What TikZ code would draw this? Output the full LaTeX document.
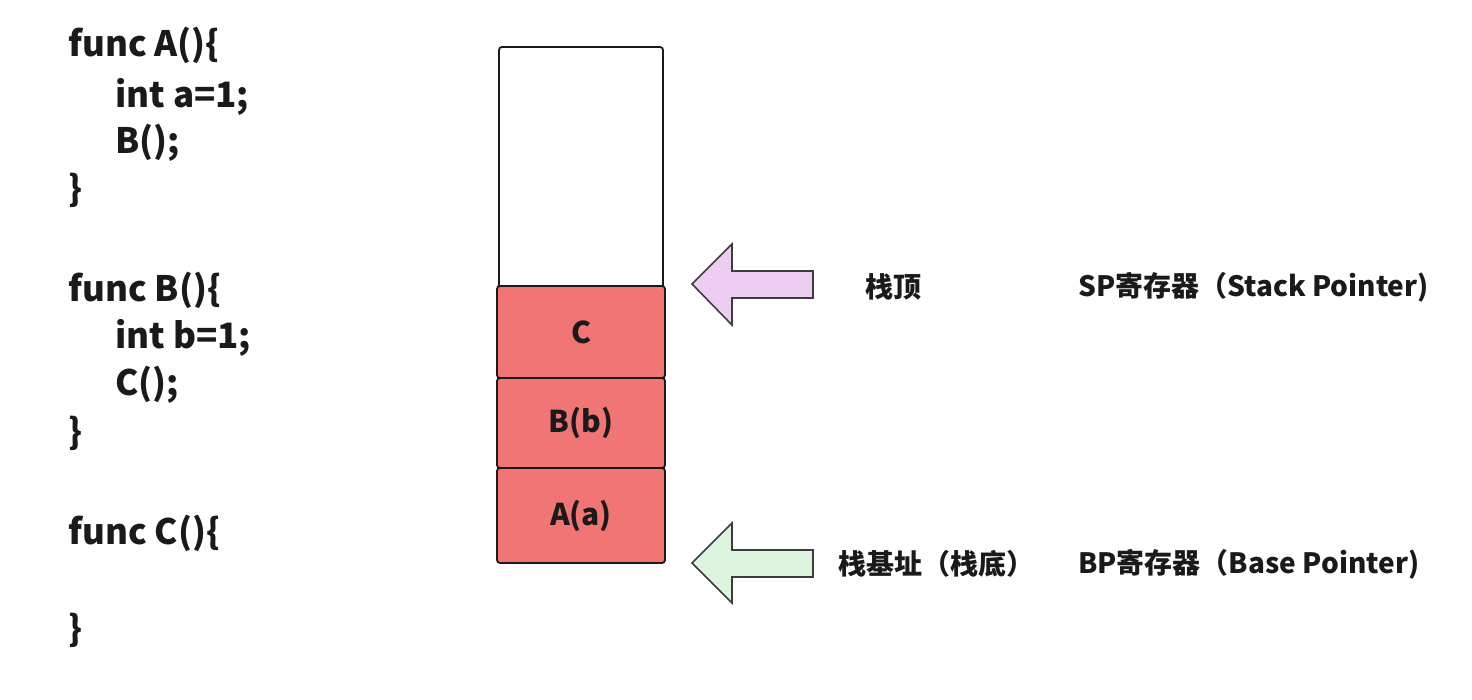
\documentclass[tikz,border=0pt]{standalone}
\usepackage{fontspec}
\setmainfont{Noto Sans CJK SC}
\definecolor{framered}{HTML}{F27575}
\definecolor{pinkarrow}{HTML}{EECDF2}
\definecolor{greenarrow}{HTML}{DDF5DE}
\definecolor{ink}{HTML}{1A1A1A}
\tikzset{
  code/.style={anchor=west, inner sep=0pt, font=\fontsize{35}{40}\selectfont\bfseries, text=ink},
  frame/.style={draw=ink, line width=1.8pt, rounded corners=3pt, fill=framered},
  emptyframe/.style={draw=ink, line width=1.8pt, rounded corners=3pt, fill=white},
  framelabel/.style={font=\fontsize{30}{34}\selectfont\bfseries, text=ink},
  sidelabel/.style={anchor=west, inner sep=0pt, font=\fontsize{28}{32}\selectfont\bfseries, text=ink},
  blockarrow/.style={draw=ink!85, line width=1.6pt, line join=miter}
}
\begin{document}
\begin{tikzpicture}[x=1pt,y=-1pt]
\useasboundingbox (0,0) rectangle (1472,700);
% code
\node[code] (l1) at (68,45) {func A()\{};
\node[code] (l2) at (115,97) {int a=1;};
\node[code] (l3) at (115,143) {B();};
\node[code] (l4) at (68,190) {\}};
\node[code] (l5) at (68,290) {func B()\{};
\node[code] (l6) at (115,338) {int b=1;};
\node[code] (l7) at (115,385) {C();};
\node[code] (l8) at (68,433) {\}};
\node[code] (l9) at (68,533) {func C()\{};
\node[code] (l10) at (68,630) {\}};
% stack
\draw[emptyframe] (499,47) rectangle (663,292);
\node[frame, minimum width=168pt, minimum height=92pt] (fc) at (581,332) {};
\node[frame, minimum width=168pt, minimum height=90pt] (fb) at (581,423) {};
\node[frame, minimum width=168pt, minimum height=95pt] (fa) at (581,515.5) {};
\node[framelabel] (tc) at (fc.center) {C};
\node[framelabel] (tb) at (fb.center) {B(b)};
\node[framelabel] (ta) at (fa.center) {A(a)};
% arrows
\coordinate (sptip) at (692,284);
\draw[blockarrow, fill=pinkarrow] (sptip) -- (732,244) -- (732,271) -- (813,271) -- (813,298) -- (732,298) -- (732,325) -- cycle;
\coordinate (bptip) at (692,563);
\draw[blockarrow, fill=greenarrow] (bptip) -- (732,523) -- (732,550) -- (813,550) -- (813,577) -- (732,577) -- (732,603) -- cycle;
% labels
\node[sidelabel] (top) at (865,287) {栈顶};
\node[sidelabel] (sp) at (1078,287) {SP寄存器（Stack Pointer)};
\node[sidelabel] (base) at (838,564) {栈基址（栈底）};
\node[sidelabel] (bp) at (1078,564) {BP寄存器（Base Pointer)};
\end{tikzpicture}
\end{document}
